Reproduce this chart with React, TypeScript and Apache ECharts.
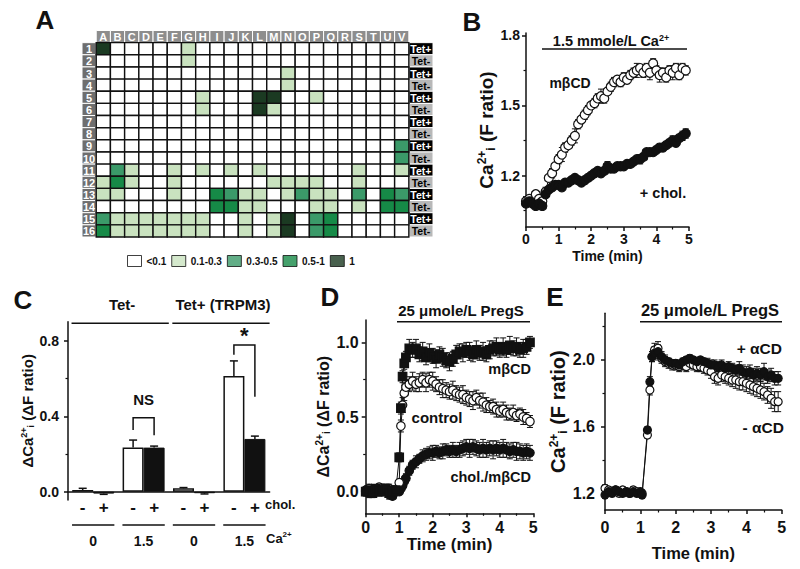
import React, { useEffect, useRef } from 'react';
import * as echarts from 'echarts';

const FONT = '"Liberation Sans", Arial, Helvetica, sans-serif';
const INK = '#111111';

// ---------------- Panel A : heat map ----------------
const colLetters = ['A','B','C','D','E','F','G','H','I','J','K','L','M','N','O','P','Q','R','S','T','U','V'];
const rowNumbers = ['1','2','3','4','5','6','7','8','9','10','11','12','13','14','15','16'];
const tetLabels = ['Tet+','Tet-','Tet+','Tet-','Tet+','Tet-','Tet+','Tet-','Tet+','Tet-','Tet+','Tet-','Tet+','Tet-','Tet+','Tet-'];
const levelNames = ['<0.1', '0.1-0.3', '0.3-0.5', '0.5-1', '1'];
const levelColors = ['#ffffff', '#c9e2bf', '#3b9a69', '#168a47', '#1b3a22'];
// level index per cell, columns A..V
const heatRows: number[][] = [
  [4,0,0,0,0,0,1,0,0,0,0,0,0,0,0,0,0,0,0,0,0,0],
  [0,0,0,0,0,0,1,0,0,0,0,0,0,0,0,0,0,0,0,0,0,0],
  [0,0,0,0,0,0,0,0,0,0,0,0,0,1,0,0,0,0,0,0,0,0],
  [0,0,0,0,0,0,0,0,0,0,0,0,0,1,0,0,0,0,0,0,0,0],
  [0,0,0,0,0,0,0,1,0,0,0,4,4,0,0,1,0,0,0,0,0,0],
  [0,0,0,0,0,0,0,1,0,0,0,4,1,0,0,0,0,0,0,0,0,0],
  [0,0,0,0,0,0,0,0,0,0,0,0,0,0,0,0,0,0,0,0,0,0],
  [0,0,0,0,0,0,0,0,0,0,0,0,0,0,0,0,0,0,0,0,0,0],
  [0,0,0,0,0,0,0,0,0,0,0,0,0,0,0,0,0,0,0,0,0,2],
  [0,0,0,0,0,0,0,0,0,0,0,0,0,0,0,0,0,0,0,0,0,2],
  [0,2,1,0,0,1,0,1,0,1,0,1,0,0,0,0,0,0,1,0,0,1],
  [1,3,1,0,0,1,0,0,0,0,0,0,1,1,1,1,0,0,1,0,0,0],
  [1,1,0,0,0,1,0,0,3,2,1,1,0,1,2,1,1,0,2,0,3,2],
  [0,0,0,0,0,0,0,0,3,3,1,1,0,0,0,1,1,0,1,0,3,3],
  [2,1,1,1,1,1,1,1,0,0,1,0,1,4,0,2,3,0,0,0,0,0],
  [3,1,1,1,1,1,1,1,0,0,1,0,1,4,0,2,3,0,0,0,0,0],
];

// ---------------- Panel B ----------------
const bTime = [0,0.1,0.2,0.3,0.4,0.5,0.6,0.7,0.8,0.9,1.0,1.1,1.2,1.3,1.4,1.5,1.6,1.7,1.8,1.9,2.0,2.1,2.2,2.3,2.4,2.5,2.6,2.7,2.8,2.9,3.0,3.1,3.2,3.3,3.4,3.5,3.6,3.7,3.8,3.9,4.0,4.1,4.2,4.3,4.4,4.5,4.6,4.7,4.8,4.9];
const bMbcd = [1.09,1.10,1.09,1.12,1.10,1.09,1.13,1.19,1.21,1.24,1.27,1.29,1.32,1.33,1.35,1.37,1.42,1.44,1.46,1.48,1.50,1.51,1.53,1.54,1.53,1.56,1.58,1.60,1.61,1.60,1.62,1.61,1.63,1.64,1.65,1.66,1.64,1.66,1.64,1.68,1.65,1.63,1.64,1.62,1.65,1.64,1.66,1.63,1.66,1.65];
const bMbcdErr = [0.02,0.01,0.02,0.01,0.02,0.01,0.02,0.01,0.02,0.01,0.02,0.03,0.02,0.01,0.02,0.03,0.02,0.01,0.02,0.02,0.01,0.02,0.02,0.03,0.02,0.01,0.02,0.02,0.01,0.02,0.02,0.01,0.02,0.02,0.03,0.01,0.02,0.02,0.03,0.02,0.02,0.03,0.02,0.02,0.02,0.03,0.02,0.02,0.02,0.02];
const bChol = [1.08,1.09,1.08,1.07,1.08,1.07,1.12,1.14,1.15,1.16,1.16,1.15,1.17,1.17,1.18,1.19,1.18,1.17,1.18,1.19,1.20,1.21,1.22,1.21,1.22,1.24,1.23,1.23,1.24,1.24,1.24,1.25,1.25,1.26,1.27,1.27,1.28,1.30,1.30,1.30,1.31,1.32,1.32,1.33,1.34,1.35,1.34,1.36,1.37,1.38];
const bCholErr = [0.01,0.02,0.01,0.01,0.02,0.01,0.01,0.01,0.01,0.01,0.01,0.01,0.01,0.01,0.01,0.01,0.01,0.01,0.01,0.01,0.01,0.01,0.01,0.01,0.01,0.02,0.01,0.01,0.01,0.01,0.01,0.01,0.01,0.01,0.01,0.02,0.01,0.01,0.01,0.01,0.01,0.01,0.01,0.01,0.01,0.02,0.01,0.01,0.02,0.02];
const bYTicks = [1.2, 1.5, 1.8];
const bYMinor = [1.05, 1.35, 1.65];

// ---------------- Panel C ----------------
const cGroups = ['Tet- 0', 'Tet- 1.5', 'Tet+ 0', 'Tet+ 1.5'];
const cCaLabels = ['0', '1.5', '0', '1.5'];
const cCholSigns = ['-', '+'];
const cNoChol = [0.009, 0.234, 0.018, 0.614];
const cNoCholErr = [0.009, 0.04, 0.004, 0.08];
const cWithChol = [-0.01, 0.234, -0.008, 0.28];
const cWithCholErr = [0.004, 0.008, 0.004, 0.015];
const cConditions = ['Tet-', 'Tet+ (TRPM3)'];
const cConditionSpan = [[0, 1], [2, 3]];
const cSigLabels = ['NS', '*'];
const cSigGroup = [1, 3];
const cSigTop = [0.393, 0.778];
const cSigLegLeft = [0.327, 0.726];
const cSigLegRight = [0.30, 0.504];
const cSigTextAt = [0.487, 0.83];
const cYTicks = [0, 0.4, 0.8];
const cYMinor = [0.2, 0.6];

// ---------------- Panel D ----------------
const dTime = [0,0.1,0.2,0.3,0.4,0.5,0.6,0.7,0.8,0.9,1.0,1.05,1.1,1.15,1.2,1.3,1.4,1.5,1.6,1.7,1.8,1.9,2.0,2.1,2.2,2.3,2.4,2.5,2.6,2.7,2.8,2.9,3.0,3.1,3.2,3.3,3.4,3.5,3.6,3.7,3.8,3.9,4.0,4.1,4.2,4.3,4.4,4.5,4.6,4.7,4.8,4.9];
const dMbcd = [0.00,0.01,-0.01,0.02,0.00,0.01,0.02,-0.01,0.00,0.01,0.23,0.56,0.77,0.86,0.90,0.96,0.95,0.96,0.92,0.94,0.90,0.93,0.91,0.89,0.92,0.90,0.88,0.87,0.89,0.92,0.94,0.93,0.95,0.94,0.92,0.95,0.93,0.94,0.92,0.95,0.96,0.97,0.95,0.97,0.95,0.98,0.96,0.97,0.95,0.96,0.97,1.00];
const dMbcdErr = [0.03,0.02,0.03,0.02,0.03,0.02,0.03,0.02,0.02,0.03,0.03,0.04,0.04,0.04,0.04,0.06,0.05,0.06,0.05,0.06,0.05,0.06,0.05,0.06,0.05,0.06,0.05,0.06,0.05,0.06,0.05,0.06,0.05,0.06,0.05,0.06,0.05,0.06,0.05,0.06,0.05,0.06,0.05,0.06,0.05,0.06,0.05,0.06,0.05,0.06,0.05,0.04];
const dControl = [0.01,0.02,0.00,0.01,0.03,0.02,0.00,0.02,0.01,0.00,0.06,0.44,0.58,0.66,0.70,0.72,0.74,0.72,0.73,0.75,0.73,0.75,0.74,0.72,0.70,0.69,0.68,0.67,0.68,0.66,0.65,0.65,0.63,0.62,0.61,0.63,0.61,0.60,0.58,0.57,0.57,0.55,0.54,0.55,0.53,0.52,0.53,0.51,0.52,0.50,0.49,0.47];
const dControlErr = [0.02,0.03,0.02,0.03,0.02,0.03,0.02,0.03,0.02,0.02,0.02,0.04,0.05,0.05,0.05,0.05,0.06,0.05,0.06,0.05,0.06,0.05,0.06,0.05,0.05,0.06,0.05,0.05,0.06,0.05,0.05,0.06,0.05,0.05,0.06,0.05,0.05,0.06,0.05,0.04,0.05,0.05,0.04,0.05,0.05,0.04,0.05,0.04,0.04,0.05,0.04,0.04];
const dChol = [0.00,-0.01,0.01,0.00,0.02,0.00,0.01,-0.02,-0.03,0.00,0.00,0.02,0.04,0.07,0.09,0.14,0.18,0.20,0.22,0.24,0.25,0.26,0.26,0.27,0.26,0.27,0.28,0.27,0.28,0.27,0.28,0.29,0.30,0.29,0.30,0.29,0.28,0.29,0.28,0.29,0.28,0.29,0.28,0.29,0.28,0.27,0.28,0.27,0.27,0.26,0.27,0.26];
const dCholErr = [0.02,0.03,0.02,0.02,0.03,0.02,0.02,0.03,0.02,0.02,0.02,0.02,0.02,0.03,0.03,0.03,0.03,0.04,0.03,0.04,0.04,0.04,0.05,0.04,0.04,0.05,0.04,0.04,0.05,0.04,0.05,0.05,0.05,0.06,0.05,0.05,0.05,0.06,0.05,0.05,0.06,0.05,0.05,0.06,0.05,0.05,0.05,0.06,0.05,0.05,0.05,0.05];
const dYTicks = [0, 0.5, 1.0];
const dYMinor = [0.25, 0.75];

// ---------------- Panel E ----------------
const eTime = [0,0.1,0.2,0.3,0.4,0.5,0.6,0.7,0.8,0.9,1.0,1.05,1.2,1.27,1.33,1.4,1.5,1.6,1.7,1.8,1.9,2.0,2.1,2.2,2.3,2.4,2.5,2.6,2.7,2.8,2.9,3.0,3.1,3.2,3.3,3.4,3.5,3.6,3.7,3.8,3.9,4.0,4.1,4.2,4.3,4.4,4.5,4.6,4.7,4.8,4.9];
const eMinus = [1.23,1.22,1.21,1.22,1.20,1.22,1.21,1.20,1.22,1.21,1.20,1.20,1.55,1.82,2.02,2.06,2.07,2.01,1.99,1.98,1.97,1.97,1.96,1.97,1.96,1.98,1.97,1.96,1.96,1.95,1.94,1.93,1.90,1.89,1.91,1.90,1.89,1.88,1.88,1.87,1.87,1.86,1.85,1.84,1.83,1.82,1.81,1.79,1.77,1.75,1.75];
const eMinusErr = [0.02,0.02,0.02,0.02,0.02,0.02,0.02,0.02,0.02,0.02,0.02,0.02,0.02,0.03,0.03,0.04,0.04,0.03,0.03,0.03,0.03,0.03,0.03,0.03,0.03,0.03,0.03,0.03,0.03,0.03,0.03,0.04,0.04,0.04,0.04,0.04,0.04,0.04,0.05,0.05,0.05,0.05,0.05,0.05,0.05,0.05,0.05,0.05,0.06,0.06,0.06];
const ePlus = [1.19,1.21,1.20,1.22,1.21,1.20,1.21,1.20,1.21,1.20,1.21,1.19,1.58,1.87,2.02,2.04,2.05,2.02,2.00,1.99,1.98,1.98,1.97,1.99,2.00,2.01,2.00,1.99,2.00,1.99,1.98,1.97,1.97,1.96,1.97,1.95,1.96,1.95,1.94,1.95,1.93,1.92,1.93,1.91,1.92,1.91,1.93,1.90,1.91,1.89,1.89];
const ePlusErr = [0.02,0.02,0.02,0.02,0.02,0.02,0.02,0.02,0.02,0.02,0.02,0.02,0.02,0.03,0.03,0.04,0.04,0.03,0.03,0.02,0.02,0.02,0.02,0.02,0.02,0.02,0.02,0.02,0.02,0.02,0.03,0.03,0.03,0.03,0.03,0.03,0.03,0.03,0.03,0.04,0.04,0.04,0.04,0.04,0.04,0.04,0.05,0.04,0.04,0.04,0.04];
const eYTicks = [1.2, 1.6, 2.0];
const eYMinor = [1.4, 1.8, 2.2];

// ---------------- helpers ----------------
const axisLineStyle = { color: INK, width: 1.5 };
const tickFont = (size: number) => ({ fontFamily: FONT, fontWeight: 'bold' as const, fontSize: size, color: INK });
const nameFont = (size: number) => {
  const s = Math.round(size * 0.62);
  return {
    fontFamily: FONT, fontWeight: 'bold' as const, fontSize: size, color: INK,
    rich: {
      sup: { fontFamily: FONT, fontWeight: 'bold' as const, fontSize: s, color: INK, verticalAlign: 'top' as const, padding: [0, 0, Math.round(size * 0.45), 0] },
      sub: { fontFamily: FONT, fontWeight: 'bold' as const, fontSize: s, color: INK, verticalAlign: 'bottom' as const, padding: [Math.round(size * 0.4), 0, 0, 0] },
    },
  };
};
const zip = (xs: number[], ys: number[]) => xs.map((x, i) => [x, ys[i]]);

function timeAxis(gridIndex: number, labelSize: number, labelMargin: number, nameSize: number, nameGap: number) {
  return {
    type: 'value', gridIndex, min: 0, max: 5, interval: 1,
    axisLine: { show: true, onZero: false, lineStyle: axisLineStyle },
    axisTick: { show: true, length: 4, lineStyle: axisLineStyle },
    minorTick: { show: true, splitNumber: 2, length: 2.5, lineStyle: { color: INK, width: 1.2 } },
    axisLabel: { ...tickFont(labelSize), margin: labelMargin },
    splitLine: { show: false }, minorSplitLine: { show: false },
    name: 'Time (min)', nameLocation: 'middle', nameGap, nameTextStyle: nameFont(nameSize),
  };
}
function valueAxis(gridIndex: number, min: number, max: number, ticks: number[], labelSize: number, margin: number, name: string, nameSize: number, nameGap: number) {
  return {
    type: 'value', gridIndex, min, max, position: 'left',
    axisLine: { show: true, onZero: false, lineStyle: axisLineStyle },
    axisTick: { show: true, length: 4, customValues: ticks, lineStyle: axisLineStyle },
    axisLabel: { ...tickFont(labelSize), margin, customValues: ticks, formatter: (v: number) => v.toFixed(1) },
    splitLine: { show: false },
    name, nameLocation: 'middle', nameRotate: 90, nameGap, nameTextStyle: nameFont(nameSize),
  };
}
function minorAxis(gridIndex: number, min: number, max: number, ticks: number[]) {
  return {
    type: 'value', gridIndex, min, max, position: 'left', offset: 0,
    axisLine: { show: false, onZero: false },
    axisTick: { show: true, length: 2.5, customValues: ticks, lineStyle: { color: INK, width: 1.2 } },
    axisLabel: { show: false },
    splitLine: { show: false },
  };
}
function lineSeries(xi: number, yi: number, xs: number[], ys: number[], symbol: string, filled: boolean, size = 8.5) {
  return {
    type: 'line', xAxisIndex: xi, yAxisIndex: yi, data: zip(xs, ys),
    symbol, symbolSize: size, showSymbol: true,
    itemStyle: { color: filled ? INK : '#ffffff', borderColor: INK, borderWidth: 1.2 },
    lineStyle: { color: INK, width: 1 }, z: 3, silent: true,
  };
}
function errorSeries(xi: number, yi: number, xs: number[], ys: number[], es: number[]) {
  return {
    type: 'custom', xAxisIndex: xi, yAxisIndex: yi, silent: true, z: 2,
    data: xs.map((x, i) => [x, ys[i], es[i]]),
    renderItem: (params: any, api: any) => {
      const x = api.value(0), y = api.value(1), e = api.value(2);
      if (!e) return null;
      const top = api.coord([x, y + e]);
      const bot = api.coord([x, y - e]);
      const st = { stroke: INK, lineWidth: 1 };
      return {
        type: 'group', children: [
          { type: 'line', shape: { x1: top[0], y1: top[1], x2: bot[0], y2: bot[1] }, style: st },
          { type: 'line', shape: { x1: top[0] - 3, y1: top[1], x2: top[0] + 3, y2: top[1] }, style: st },
          { type: 'line', shape: { x1: bot[0] - 3, y1: bot[1], x2: bot[0] + 3, y2: bot[1] }, style: st },
        ],
      };
    },
  };
}
function gText(x: number, y: number, text: string, size = 14, align = 'center', rich?: any) {
  return {
    type: 'text', x, y, silent: true,
    style: {
      text, fill: INK, font: `bold ${size}px ${FONT}`,
      align, verticalAlign: 'middle', textAlign: align, textVerticalAlign: 'middle',
      ...(rich ? { rich } : {}),
    },
  };
}
const supRich = (size: number) => ({ sup: { fontFamily: FONT, fontWeight: 'bold', fontSize: size, fill: INK, verticalAlign: 'top', padding: [0, 0, 7, 0] } });

// ---------------- build data for A ----------------
const heatData: number[][] = [];
heatRows.forEach((row, r) => row.forEach((lv, c) => heatData.push([c, r + 1, lv])));
type Frame = { x0: number; x1: number; r: number; text: string; fill: string; color: string; size: number };
const frameCells: Frame[] = [];
colLetters.forEach((t, c) => frameCells.push({ x0: c, x1: c + 1, r: 0, text: t, fill: '#8d8d8d', color: '#ffffff', size: 11 }));
rowNumbers.forEach((t, r) => frameCells.push({ x0: -1, x1: 0, r: r + 1, text: t, fill: '#6e6e6e', color: '#ffffff', size: 11 }));
tetLabels.forEach((t, r) => frameCells.push({ x0: 22, x1: 23.7, r: r + 1, text: t, fill: t === 'Tet+' ? '#000000' : '#b8b8b8', color: t === 'Tet+' ? '#ffffff' : '#000000', size: 10.5 }));

export default function App() {
  const ref = useRef<HTMLDivElement>(null);
  useEffect(() => {
    if (!ref.current) return;
    const chart = echarts.init(ref.current, undefined, { renderer: 'svg' });
    const option: any = {
      animation: false,
      backgroundColor: '#ffffff',
      textStyle: { fontFamily: FONT },
      grid: [
        { left: 82, top: 30.5, width: 351, height: 206.5 },
        { left: 526, top: 33, width: 163, height: 194 },
        { left: 68, top: 321.7, width: 201.6, height: 178.3 },
        { left: 365.7, top: 320, width: 167.6, height: 193.3 },
        { left: 605, top: 313.3, width: 176.7, height: 196.7 },
      ],
      xAxis: [
        { type: 'value', gridIndex: 0, min: -1, max: 23.7, show: false },
        timeAxis(1, 14, 5, 14, 22),
        {
          type: 'category', gridIndex: 2, data: cGroups,
          axisLine: { show: true, onZero: true, lineStyle: axisLineStyle },
          axisTick: { show: false }, axisLabel: { show: false }, splitLine: { show: false },
        },
        timeAxis(3, 16, 6, 17, 22),
        timeAxis(4, 16, 9, 16.5, 34),
      ],
      yAxis: [
        { type: 'value', gridIndex: 0, min: -1, max: 16, inverse: true, show: false },
        valueAxis(1, 0.98, 1.81, bYTicks, 14, 6, 'Ca{sup|2+}{sub|i} (F ratio)', 19, 29),
        valueAxis(2, -0.044, 0.902, cYTicks, 14, 9, '\u0394Ca{sup|2+}{sub|i} (\u0394F ratio)', 15, 28),
        valueAxis(3, -0.145, 1.15, dYTicks, 16, 7, '\u0394Ca{sup|2+}{sub|i} (\u0394F ratio)', 16, 34),
        valueAxis(4, 1.1, 2.28, eYTicks, 16, 10, 'Ca{sup|2+}{sub|i} (F ratio)', 20, 34),
        minorAxis(1, 0.98, 1.81, bYMinor),
        minorAxis(2, -0.044, 0.902, cYMinor),
        minorAxis(3, -0.145, 1.15, dYMinor),
        minorAxis(4, 1.1, 2.28, eYMinor),
      ],
      legend: {
        left: 122, top: 250, itemWidth: 14, itemHeight: 11, itemGap: 5, icon: 'rect',
        selectedMode: false, data: levelNames,
        itemStyle: { borderColor: INK, borderWidth: 1 },
        textStyle: { fontFamily: FONT, fontWeight: 'bold', fontSize: 10, color: INK },
      },
      series: [
        // ---- A
        ...levelNames.map((n, i) => ({
          type: 'scatter', name: n, xAxisIndex: 0, yAxisIndex: 0, data: [],
          itemStyle: { color: levelColors[i], borderColor: INK, borderWidth: 1 },
        })),
        {
          type: 'custom', name: 'frame', xAxisIndex: 0, yAxisIndex: 0, silent: true,
          data: frameCells.map((f) => [f.x0, f.x1, f.r]),
          renderItem: (params: any, api: any) => {
            const f = frameCells[params.dataIndex];
            const p0 = api.coord([api.value(0), api.value(2) - 1]);
            const p1 = api.coord([api.value(1), api.value(2)]);
            return {
              type: 'group', children: [
                { type: 'rect', shape: { x: p0[0], y: p0[1], width: p1[0] - p0[0], height: p1[1] - p0[1] }, style: { fill: f.fill, stroke: '#ffffff', lineWidth: 1 } },
                { type: 'text', x: (p0[0] + p1[0]) / 2, y: (p0[1] + p1[1]) / 2 + 0.5, style: { text: f.text, fill: f.color, font: `bold ${f.size}px ${FONT}`, align: 'center', verticalAlign: 'middle' } },
              ],
            };
          },
        },
        {
          type: 'custom', name: 'cells', xAxisIndex: 0, yAxisIndex: 0, silent: true,
          data: heatData,
          renderItem: (params: any, api: any) => {
            const c = api.value(0), r = api.value(1), lv = api.value(2);
            const p0 = api.coord([c, r - 1]);
            const p1 = api.coord([c + 1, r]);
            return { type: 'rect', shape: { x: p0[0], y: p0[1], width: p1[0] - p0[0], height: p1[1] - p0[1] }, style: { fill: levelColors[lv], stroke: INK, lineWidth: 1.4 } };
          },
        },
        // ---- B
        lineSeries(1, 1, bTime, bMbcd, 'circle', false, 9),
        lineSeries(1, 1, bTime, bChol, 'circle', true, 9),
        errorSeries(1, 1, bTime, bMbcd, bMbcdErr),
        errorSeries(1, 1, bTime, bChol, bCholErr),
        // ---- C
        {
          type: 'bar', name: '- chol.', xAxisIndex: 2, yAxisIndex: 2, data: cNoChol, barWidth: 21, barGap: '0%',
          itemStyle: { color: '#ffffff', borderColor: INK, borderWidth: 1.5 }, silent: true,
        },
        {
          type: 'bar', name: '+ chol.', xAxisIndex: 2, yAxisIndex: 2, data: cWithChol, barWidth: 21, barGap: '0%',
          itemStyle: { color: INK, borderColor: INK, borderWidth: 1 }, silent: true,
        },
        ...[[cNoChol, cNoCholErr, -1], [cWithChol, cWithCholErr, 1]].map(([vals, errs, side]: any) => ({
          type: 'custom', xAxisIndex: 2, yAxisIndex: 2, silent: true, z: 3,
          data: vals.map((v: number, i: number) => [i, v, errs[i]]),
          renderItem: (params: any, api: any) => {
            const i = api.value(0), v = api.value(1), e = api.value(2);
            const bw = api.size([1, 0])[0];
            const dir = v >= 0 ? 1 : -1;
            const a = api.coord([i, v]);
            const b = api.coord([i, v + dir * e]);
            const x = a[0] + side * bw * 0.2083;
            const st = { stroke: INK, lineWidth: 1.5 };
            return {
              type: 'group', children: [
                { type: 'line', shape: { x1: x, y1: a[1], x2: x, y2: b[1] }, style: st },
                { type: 'line', shape: { x1: x - 4, y1: b[1], x2: x + 4, y2: b[1] }, style: st },
              ],
            };
          },
        })),
        {
          type: 'custom', xAxisIndex: 2, yAxisIndex: 2, silent: true,
          data: cCaLabels.map((_, i) => [i, 0]),
          renderItem: (params: any, api: any) => {
            const i = api.value(0);
            const cx = api.coord([i, 0])[0];
            const bw = api.size([1, 0])[0];
            const cs = params.coordSys;
            const bottom = cs.y + cs.height;
            const font = `bold 14px ${FONT}`;
            return {
              type: 'group', children: [
                { type: 'text', x: cx - bw * 0.21, y: bottom + 7, style: { text: cCholSigns[0], fill: INK, font: `bold 17px ${FONT}`, align: 'center', verticalAlign: 'middle' } },
                { type: 'text', x: cx + bw * 0.21, y: bottom + 7, style: { text: cCholSigns[1], fill: INK, font: `bold 17px ${FONT}`, align: 'center', verticalAlign: 'middle' } },
                { type: 'line', shape: { x1: cx - bw * 0.42, y1: bottom + 25, x2: cx + bw * 0.42, y2: bottom + 25 }, style: { stroke: INK, lineWidth: 1.5 } },
                { type: 'text', x: cx, y: bottom + 41, style: { text: cCaLabels[params.dataIndex], fill: INK, font, align: 'center', verticalAlign: 'middle' } },
              ],
            };
          },
        },
        {
          type: 'custom', xAxisIndex: 2, yAxisIndex: 2, silent: true,
          data: cConditionSpan.map((s) => [s[0], s[1]]),
          renderItem: (params: any, api: any) => {
            const i0 = api.value(0), i1 = api.value(1);
            const bw = api.size([1, 0])[0];
            const xa = api.coord([i0, 0])[0] - bw * 0.43;
            const xb = api.coord([i1, 0])[0] + bw * 0.5;
            const cs = params.coordSys;
            return {
              type: 'group', children: [
                { type: 'line', shape: { x1: xa, y1: cs.y + 1.5, x2: xb, y2: cs.y + 1.5 }, style: { stroke: INK, lineWidth: 1.5 } },
                { type: 'text', x: (xa + xb) / 2 + 2, y: cs.y - 17, style: { text: cConditions[params.dataIndex], fill: INK, font: `bold 15px ${FONT}`, align: 'center', verticalAlign: 'middle' } },
              ],
            };
          },
        },
        {
          type: 'custom', xAxisIndex: 2, yAxisIndex: 2, silent: true,
          data: cSigLabels.map((_, k) => [cSigGroup[k], cSigTop[k], cSigLegLeft[k], cSigLegRight[k], cSigTextAt[k]]),
          renderItem: (params: any, api: any) => {
            const g = api.value(0);
            const bw = api.size([1, 0])[0];
            const cx = api.coord([g, 0])[0];
            const xl = cx - bw * 0.2083, xr = cx + bw * 0.2083;
            const yt = api.coord([g, api.value(1)])[1];
            const yl = api.coord([g, api.value(2)])[1];
            const yr = api.coord([g, api.value(3)])[1];
            const ys = api.coord([g, api.value(4)])[1];
            const lab = cSigLabels[params.dataIndex];
            return {
              type: 'group', children: [
                { type: 'polyline', shape: { points: [[xl, yl], [xl, yt], [xr, yt], [xr, yr]] }, style: { stroke: INK, lineWidth: 1.5, fill: 'none' } },
                { type: 'text', x: cx, y: ys, style: { text: lab, fill: INK, font: `bold ${lab === '*' ? 22 : 15}px ${FONT}`, align: 'center', verticalAlign: 'middle' } },
              ],
            };
          },
        },
        // ---- D
        lineSeries(3, 3, dTime, dChol, 'circle', true),
        lineSeries(3, 3, dTime, dControl, 'circle', false),
        lineSeries(3, 3, dTime, dMbcd, 'rect', true),
        errorSeries(3, 3, dTime, dChol, dCholErr),
        errorSeries(3, 3, dTime, dControl, dControlErr),
        errorSeries(3, 3, dTime, dMbcd, dMbcdErr),
        // ---- E
        lineSeries(4, 4, eTime, eMinus, 'circle', false, 8),
        lineSeries(4, 4, eTime, ePlus, 'circle', true, 8),
        errorSeries(4, 4, eTime, eMinus, eMinusErr),
        errorSeries(4, 4, eTime, ePlus, ePlusErr),
      ],
      graphic: [
        gText(45, 20, 'A', 26),
        gText(472, 22, 'B', 26),
        gText(23, 300, 'C', 26),
        gText(330, 297, 'D', 26),
        gText(555, 297, 'E', 26),
        // B
        gText(611, 41, '1.5 mmole/L Ca{sup|2+}', 14.5, 'center', supRich(9)),
        { type: 'line', silent: true, shape: { x1: 542, y1: 49, x2: 687, y2: 49 }, style: { stroke: INK, lineWidth: 1.5 } },
        gText(570, 83, 'm\u03B2CD', 14),
        gText(663, 193, '+ chol.', 14.5),
        // C
        gText(265, 504, 'chol.', 13, 'left'),
        gText(266, 538, 'Ca{sup|2+}', 13, 'left', supRich(8)),
        // D
        gText(461, 310, '25 \u03BCmole/L PregS', 15),
        { type: 'line', silent: true, shape: { x1: 397, y1: 321.7, x2: 530, y2: 321.7 }, style: { stroke: INK, lineWidth: 1.5 } },
        gText(531, 369, 'm\u03B2CD', 14.5, 'right'),
        gText(437, 417, 'control', 15),
        gText(531, 477, 'chol./m\u03B2CD', 14.5, 'right'),
        // E
        gText(710, 310, '25 \u03BCmole/L PregS', 16.5),
        { type: 'line', silent: true, shape: { x1: 640, y1: 321.7, x2: 782, y2: 321.7 }, style: { stroke: INK, lineWidth: 1.5 } },
        gText(782, 348, '+ \u03B1CD', 15.5, 'right'),
        gText(784, 427, '- \u03B1CD', 15.5, 'right'),
      ],
    };
    chart.setOption(option);
    return () => chart.dispose();
  }, []);
  return (
    <div
      ref={ref}
      style={{ position: 'fixed', left: 0, top: 0, width: 800, height: 569, background: '#ffffff' }}
    />
  );
}
